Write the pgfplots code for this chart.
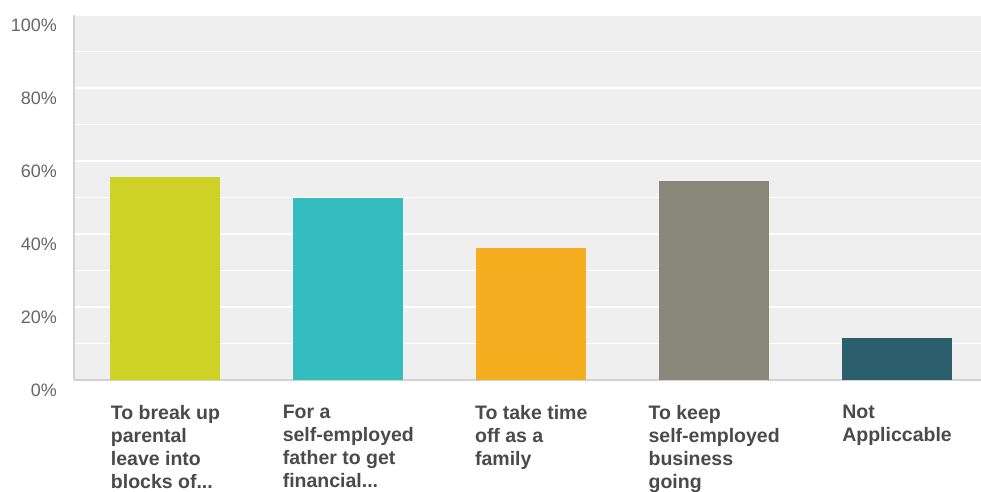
\documentclass[border=0pt]{standalone}
\usepackage{pgfplots}
\pgfplotsset{compat=1.18}
\usepackage{fontspec}
\setmainfont{Liberation Sans}
\definecolor{bgc}{HTML}{EFEFEF}
\definecolor{axc}{HTML}{D2D2D2}
\definecolor{c1}{HTML}{CED227}
\definecolor{c2}{HTML}{33BDBE}
\definecolor{c3}{HTML}{F5AE1F}
\definecolor{c4}{HTML}{87887A}
\definecolor{c5}{HTML}{2A5F6B}
\definecolor{ytc}{HTML}{666666}
\definecolor{xtc}{HTML}{4A4A4A}
\newcommand\tdots{...}
\begin{document}
\begin{tikzpicture}
\begin{axis}[
  name=ax,
  scale only axis,
  width=907pt, height=365pt,
  xmin=-0.5, xmax=4.459,
  ymin=0, ymax=100,
  axis background/.style={fill=bgc},
  axis x line*=bottom, axis y line*=left,
  axis line style={draw=axc, line width=1.5pt, -},
  ytick={0,20,40,60,80,100},
  yticklabels={0\%,20\%,40\%,60\%,80\%,100\%},
  minor ytick={10,30,50,70,90},
  ymajorgrids, yminorgrids,
  major grid style={white, line width=1.5pt},
  minor grid style={white, line width=1.5pt},
  major tick length=0pt, minor tick length=0pt,
  yticklabel style={anchor=east, inner sep=0pt, xshift=-17pt, yshift=-10pt,
    font=\fontsize{18}{22}\selectfont, text=ytc},
  xtick={0,1,2,3,4},
  xticklabels={{To break up\\parental\\leave into\\blocks of\tdots},
               {For a\\self-employed\\father to get\\financial\tdots},
               {To take time\\off as a\\family},
               {To keep\\self-employed\\business\\going},
               {Not\\Appliccable}},
  xticklabel style={anchor=north, align=left, inner sep=0pt, yshift=-25pt,
    font=\fontsize{19.5}{23}\selectfont\bfseries, text=xtc},
  ybar, bar width=110pt, bar shift=0pt,
  clip=true,
]
\addplot[fill=c1, draw=none] coordinates {(0,55.7)};
\addplot[fill=c2, draw=none] coordinates {(1,50.0)};
\addplot[fill=c3, draw=none] coordinates {(2,36.1)};
\addplot[fill=c4, draw=none] coordinates {(3,54.6)};
\addplot[fill=c5, draw=none] coordinates {(4,11.4)};
\end{axis}
\pgfresetboundingbox
\path[use as bounding box] ([xshift=-74pt,yshift=-111pt]ax.south west) rectangle ([yshift=15pt]ax.north east);
\end{tikzpicture}
\end{document}
